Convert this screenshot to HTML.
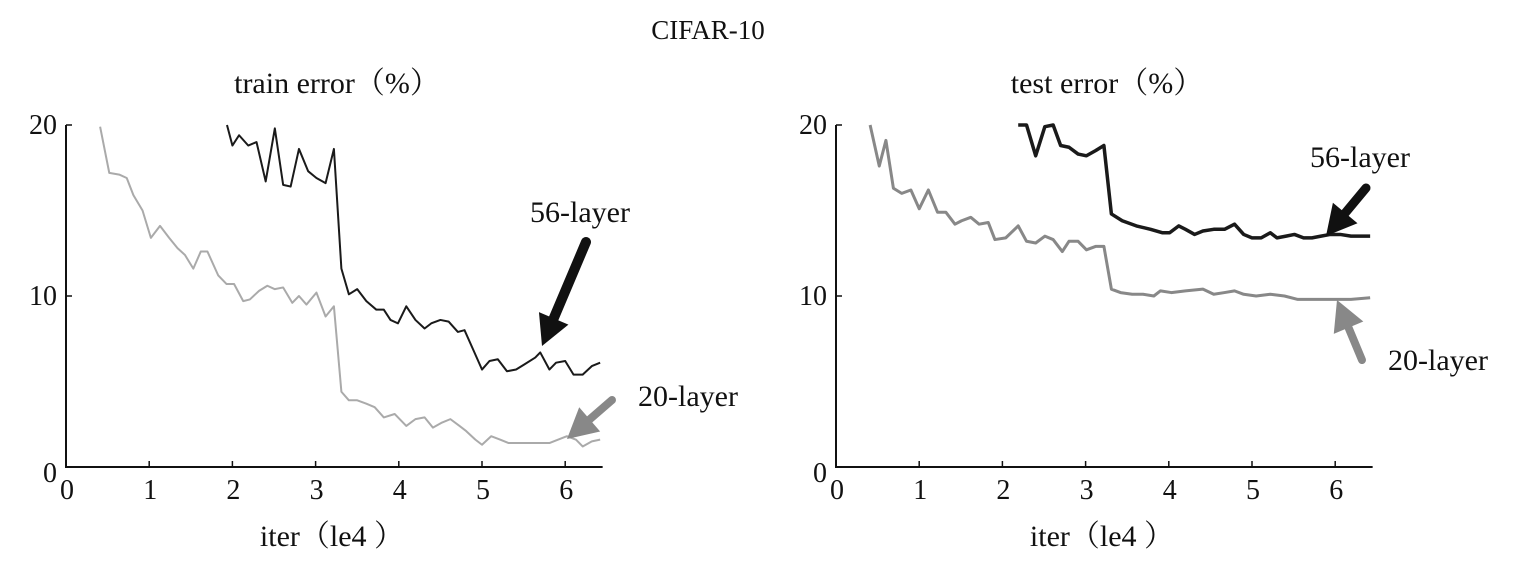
<!DOCTYPE html>
<html><head><meta charset="utf-8"><style>
html,body{margin:0;padding:0;background:#fff}
svg{display:block}
text{font-family:"Liberation Serif","Noto Serif CJK SC",serif;fill:#111}
</style></head><body>
<svg id="chart" width="1519" height="573" viewBox="0 0 1519 573">
<text x="708" y="39" font-size="27" text-anchor="middle">CIFAR-10</text>
<g id="left"></g>
<g id="right"></g>
</svg>
<script>
const xTicks=[0,1,2,3,4,5,6];
const yTicks=[0,10,20];
const train56X=[1.935,2.0,2.08,2.19,2.29,2.40,2.51,2.61,2.70,2.80,2.91,3.01,3.12,3.22,3.31,3.40,3.50,3.61,3.73,3.82,3.90,3.99,4.09,4.20,4.31,4.39,4.50,4.60,4.71,4.79,4.90,5.00,5.09,5.19,5.30,5.41,5.51,5.64,5.70,5.81,5.89,6.0,6.10,6.21,6.32,6.42];
const train56Y=[20,18.8,19.4,18.8,19.0,16.7,19.8,16.5,16.4,18.6,17.3,16.9,16.6,18.6,11.6,10.1,10.4,9.7,9.2,9.2,8.6,8.4,9.4,8.6,8.1,8.4,8.6,8.5,7.9,8.0,6.8,5.7,6.2,6.3,5.6,5.7,6.0,6.4,6.7,5.7,6.1,6.2,5.4,5.4,5.9,6.1];
const train20X=[0.41,0.52,0.64,0.73,0.81,0.92,1.02,1.13,1.24,1.34,1.43,1.53,1.62,1.70,1.83,1.93,2.02,2.13,2.21,2.32,2.42,2.51,2.61,2.72,2.80,2.89,3.01,3.12,3.22,3.31,3.40,3.50,3.61,3.71,3.82,3.95,4.09,4.20,4.31,4.41,4.52,4.62,4.73,4.81,4.92,5.00,5.11,5.22,5.32,5.43,5.60,5.81,6.02,6.13,6.21,6.32,6.42];
const train20Y=[19.9,17.2,17.1,16.9,15.9,15.0,13.4,14.1,13.4,12.8,12.4,11.6,12.6,12.6,11.2,10.7,10.7,9.7,9.8,10.3,10.6,10.4,10.5,9.6,10.0,9.5,10.2,8.8,9.4,4.4,3.9,3.9,3.7,3.5,2.9,3.1,2.4,2.8,2.9,2.3,2.6,2.8,2.4,2.1,1.6,1.3,1.8,1.6,1.4,1.4,1.4,1.4,1.8,1.6,1.2,1.5,1.6];
const test56X=[2.19,2.29,2.40,2.51,2.61,2.70,2.80,2.91,3.01,3.12,3.22,3.31,3.44,3.61,3.78,3.92,4.01,4.12,4.20,4.31,4.41,4.54,4.67,4.79,4.90,5.00,5.11,5.22,5.30,5.41,5.51,5.62,5.72,5.83,5.94,6.06,6.19,6.42];
const test56Y=[20,20,18.2,19.9,20,18.8,18.7,18.3,18.2,18.5,18.8,14.8,14.4,14.1,13.9,13.7,13.7,14.1,13.9,13.6,13.8,13.9,13.9,14.2,13.6,13.4,13.4,13.7,13.4,13.5,13.6,13.4,13.4,13.5,13.6,13.6,13.5,13.5];
const test20X=[0.41,0.52,0.60,0.69,0.79,0.90,1.0,1.11,1.22,1.32,1.43,1.51,1.62,1.72,1.83,1.91,2.04,2.19,2.29,2.40,2.51,2.61,2.72,2.80,2.91,3.01,3.12,3.22,3.31,3.42,3.56,3.69,3.82,3.90,4.03,4.20,4.41,4.54,4.67,4.79,4.90,5.05,5.22,5.39,5.55,5.81,5.98,6.19,6.42];
const test20Y=[20,17.6,19.1,16.3,16.0,16.2,15.1,16.2,14.9,14.9,14.2,14.4,14.6,14.2,14.3,13.3,13.4,14.1,13.2,13.1,13.5,13.3,12.6,13.2,13.2,12.7,12.9,12.9,10.4,10.2,10.1,10.1,10.0,10.3,10.2,10.3,10.4,10.1,10.2,10.3,10.1,10.0,10.1,10.0,9.8,9.8,9.8,9.8,9.9];

const NS='http://www.w3.org/2000/svg';
function mk(tag,attrs,parent){const e=document.createElementNS(NS,tag);for(const k in attrs)e.setAttribute(k,attrs[k]);parent.appendChild(e);return e;}
function panel(g,x0,title,s56x,s56y,s20x,s20y,w56,c20,w20){
  const sx=v=>x0+v*83.2, sy=v=>467-v*17.1;
  const t=mk('text',{x:x0+271,y:93,'font-size':30,'text-anchor':'middle'},g);t.textContent=title;
  
  
  const ax=mk('path',{d:`M${x0} ${sy(20)}V467H${sx(6.45)}`,stroke:'#111','stroke-width':2,fill:'none'},g);
  
  
  xTicks.forEach(v=>{
    const l=mk('line',{x1:sx(v),x2:sx(v),y1:467,y2:461,stroke:'#111','stroke-width':1.5},g);
    
    
    const tx=mk('text',{x:sx(v)+(v==0?1:1),y:499,'font-size':28,'text-anchor':'middle'},g);tx.textContent=v;
    
    
  });
  yTicks.forEach(v=>{
    const l=mk('line',{x1:x0,x2:x0+6,y1:sy(v),y2:sy(v),stroke:'#111','stroke-width':1.5},g);
    
    
    const ty=mk('text',{x:x0-9,y:sy(v)+(v==0?15:9),'font-size':28,'text-anchor':'end'},g);ty.textContent=v;
    
    
  });
  const xl=mk('text',{x:x0+266,y:546,'font-size':30,'text-anchor':'middle'},g);xl.textContent='iter（le4 ）';
  
  
  const p20=mk('polyline',{points:s20x.map((v,i)=>sx(v)+','+sy(s20y[i])).join(' '),fill:'none',stroke:c20,'stroke-width':w20,'stroke-linejoin':'round'},g);
  
  
  const p56=mk('polyline',{points:s56x.map((v,i)=>sx(v)+','+sy(s56y[i])).join(' '),fill:'none',stroke:'#1a1a1a','stroke-width':w56,'stroke-linejoin':'round'},g);
  
  
}
function arrow(g,x1,y1,x2,y2,color,w,name){
  const a=Math.atan2(y2-y1,x2-x1),L=30,H=16;
  const bx=x2-L*Math.cos(a),by=y2-L*Math.sin(a);
  const s=mk('line',{x1:x1,y1:y1,x2:bx,y2:by,stroke:color,'stroke-width':w,'stroke-linecap':'round'},g);
  
  
  const h=mk('polygon',{points:`${x2},${y2} ${bx+H*Math.sin(a)},${by-H*Math.cos(a)} ${bx-H*Math.sin(a)},${by+H*Math.cos(a)}`,fill:color},g);
  
  
}
function label(g,x,y,txt,name){const t=mk('text',{x:x,y:y,'font-size':30},g);t.textContent=txt;
  
  }
const L=document.getElementById('left'),R=document.getElementById('right');
panel(L,66,'train error（%）',train56X,train56Y,train20X,train20Y,2,'#aaa',2);
panel(R,836,'test error（%）',test56X,test56Y,test20X,test20Y,3.5,'#888',3);
arrow(L,586,242,542,346,'#111',10,'arrow-56-layer');
arrow(L,612,400,567,439,'#888',8,'arrow-20-layer');
arrow(R,1366,188,1326,236,'#111',9,'arrow-56-layer');
arrow(R,1362,360,1337,300,'#888',8,'arrow-20-layer');
label(L,530,222,'56-layer','label-56-layer');
label(L,638,406,'20-layer','label-20-layer');
label(R,1310,167,'56-layer','label-56-layer');
label(R,1388,370,'20-layer','label-20-layer');
</script>
</body></html>
